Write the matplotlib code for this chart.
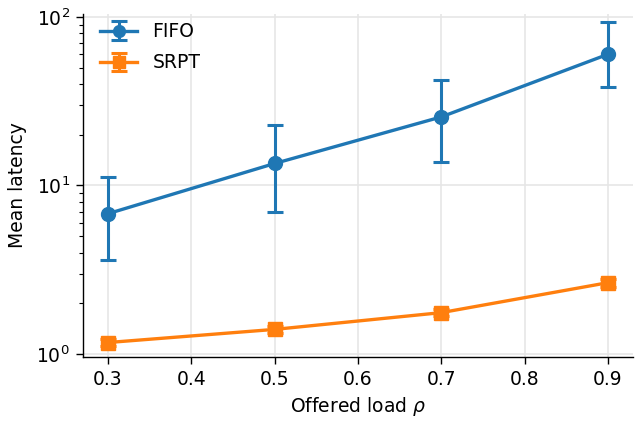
import numpy as np
import matplotlib
matplotlib.use("Agg")
import matplotlib.pyplot as plt

loads = [0.3, 0.5, 0.7, 0.9]

fifo_mean = [6.8, 13.5, 25.5, 60.0]
fifo_low = [3.6, 7.0, 13.7, 38.5]
fifo_high = [11.2, 22.8, 42.5, 93.0]

srpt_mean = [1.17, 1.40, 1.76, 2.65]
srpt_low = [1.11, 1.34, 1.68, 2.50]
srpt_high = [1.23, 1.46, 1.84, 2.80]

plt.rcParams.update({
    'font.size': 13.5,
    'axes.linewidth': 1.0,
    'xtick.major.size': 4.7, 'ytick.major.size': 4.7,
    'xtick.minor.size': 2.7, 'ytick.minor.size': 2.7,
    'xtick.major.width': 1.0, 'ytick.major.width': 1.0,
    'ytick.minor.width': 0.8,
    'xtick.major.pad': 4.7, 'ytick.major.pad': 4.7,
})

fig, ax = plt.subplots(figsize=(6.41, 4.24), dpi=100)
fig.subplots_adjust(left=0.1295, right=0.9875, bottom=0.158, top=0.967)

fifo_err = [np.array(fifo_mean) - np.array(fifo_low), np.array(fifo_high) - np.array(fifo_mean)]
srpt_err = [np.array(srpt_mean) - np.array(srpt_low), np.array(srpt_high) - np.array(srpt_mean)]

ax.errorbar(loads, fifo_mean, yerr=fifo_err, marker='o', markersize=10, linewidth=2.4,
            capsize=5.6, capthick=2.2, elinewidth=2.2, color='#1f77b4', label='FIFO')
ax.errorbar(loads, srpt_mean, yerr=srpt_err, marker='s', markersize=10, linewidth=2.4,
            capsize=5.6, capthick=2.2, elinewidth=2.2, color='#ff7f0e', label='SRPT')

ax.set_yscale('log')
ax.set_ylim(0.96, 104)
ax.set_xlim(0.27, 0.93)

ax.grid(True, color='#e6e6e6', linewidth=1.2)
ax.set_axisbelow(True)
ax.spines['top'].set_visible(False)
ax.spines['right'].set_visible(False)

ax.set_xlabel(r'Offered load $\rho$')
ax.set_ylabel('Mean latency', labelpad=7)
ax.legend(loc='upper left', bbox_to_anchor=(0.0, 1.025), frameon=False,
          markerscale=0.85, labelspacing=0.65)

plt.savefig('out.png', dpi=100)
